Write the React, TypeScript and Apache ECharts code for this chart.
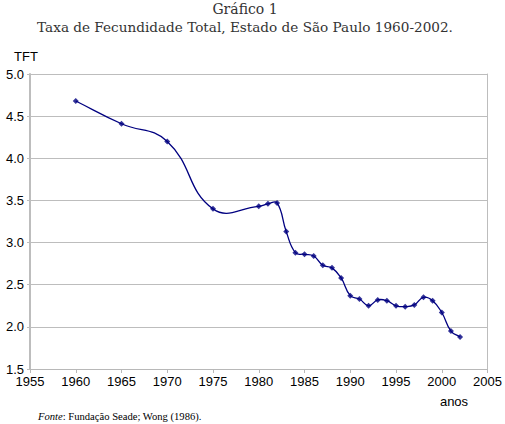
import React, { useEffect, useRef } from "react";
import * as echarts from "echarts";

const years = [1960, 1965, 1970, 1975, 1980, 1981, 1982, 1983, 1984, 1985, 1986, 1987, 1988, 1989, 1990, 1991, 1992, 1993, 1994, 1995, 1996, 1997, 1998, 1999, 2000, 2001, 2002];
const tft = [4.68, 4.41, 4.2, 3.4, 3.43, 3.46, 3.47, 3.13, 2.88, 2.86, 2.84, 2.73, 2.7, 2.58, 2.37, 2.33, 2.25, 2.32, 2.31, 2.25, 2.24, 2.26, 2.35, 2.31, 2.17, 1.95, 1.88];

const titleLine1 = "Gráfico 1";
const titleLine2 = "Taxa de Fecundidade Total, Estado de São Paulo 1960-2002.";
const yAxisName = "TFT";
const xAxisName = "anos";
const sourceLabel = "Fonte";
const sourceText = ": Fundação Seade; Wong (1986).";

const SMOOTH = 0.45;

function smoothPath(pts: number[][]): string {
  let d = `M${pts[0][0]},${pts[0][1]}`;
  const n = pts.length;
  const cpOut: number[][] = [];
  const cpIn: number[][] = [];
  for (let i = 0; i < n; i++) {
    const p = pts[i];
    const prev = pts[Math.max(0, i - 1)];
    const next = pts[Math.min(n - 1, i + 1)];
    const vx = next[0] - prev[0];
    const vy = next[1] - prev[1];
    const d0 = Math.hypot(p[0] - prev[0], p[1] - prev[1]);
    const d1 = Math.hypot(next[0] - p[0], next[1] - p[1]);
    const tot = d0 + d1 || 1;
    cpIn.push([p[0] - vx * SMOOTH * (d0 / tot), p[1] - vy * SMOOTH * (d0 / tot)]);
    cpOut.push([p[0] + vx * SMOOTH * (d1 / tot), p[1] + vy * SMOOTH * (d1 / tot)]);
  }
  for (let i = 0; i < n - 1; i++) {
    const a = cpOut[i];
    const b = cpIn[i + 1];
    const q = pts[i + 1];
    d += ` C${a[0]},${a[1]} ${b[0]},${b[1]} ${q[0]},${q[1]}`;
  }
  return d;
}

export default function App() {
  const ref = useRef<HTMLDivElement>(null);
  useEffect(() => {
    if (!ref.current) return;
    const chart = echarts.init(ref.current, null, { renderer: "svg" });
    const sans = "'Liberation Sans', Arial, sans-serif";
    const serif = "'DejaVu Serif', serif";
    const points = years.map((y, i) => [y, tft[i]]);
    chart.setOption({
      animation: false,
      backgroundColor: "#ffffff",
      grid: { left: 30, right: 16, top: 74, bottom: 55, containLabel: false },
      xAxis: {
        type: "value",
        min: 1955,
        max: 2005,
        interval: 5,
        axisLine: { show: true, lineStyle: { color: "#b8b8b8", width: 1 } },
        axisTick: { show: true, length: 4, lineStyle: { color: "#b8b8b8" } },
        splitLine: { show: false },
        axisLabel: { color: "#000", fontFamily: sans, fontSize: 13, margin: 6, formatter: (v: number) => String(v) },
      },
      yAxis: [
        {
          type: "value",
          min: 1.5,
          max: 5,
          interval: 0.5,
          axisLine: { show: true, onZero: false, lineStyle: { color: "#bdbdbd", width: 2 } },
          axisTick: { show: true, length: 3, lineStyle: { color: "#bdbdbd" } },
          splitLine: { show: true, lineStyle: { color: "#bdbdbd", width: 1 } },
          axisLabel: {
            color: "#000",
            fontFamily: sans,
            fontSize: 13,
            margin: 6,
            formatter: (v: number) => v.toFixed(1),
          },
        },
        {
          type: "value",
          position: "right",
          min: 1.5,
          max: 5,
          interval: 0.5,
          axisLine: { show: true, lineStyle: { color: "#bdbdbd", width: 1 } },
          axisTick: { show: false },
          splitLine: { show: false },
          axisLabel: { show: false },
        },
      ],
      series: [
        {
          type: "custom",
          data: points,
          z: 2,
          renderItem: (params: any, api: any) => {
            if (params.dataIndex !== 0) return null;
            const pts = points.map((p) => api.coord(p));
            return {
              type: "path",
              shape: { pathData: smoothPath(pts) },
              style: { fill: "none", stroke: "#000080", lineWidth: 1.3 },
            };
          },
        },
        {
          type: "scatter",
          data: points,
          z: 3,
          symbol: "diamond",
          symbolSize: 6,
          itemStyle: { color: "#000080" },
        },
      ],
      graphic: [
        {
          type: "text",
          x: 245,
          y: 2,
          style: { text: titleLine1, font: `14px ${serif}`, fill: "#333", textAlign: "center" },
        },
        {
          type: "text",
          x: 245,
          y: 20,
          style: { text: titleLine2, font: `13.6px ${serif}`, fill: "#333", textAlign: "center" },
        },
        {
          type: "text",
          x: 26,
          y: 50,
          style: { text: yAxisName, font: `13px ${sans}`, fill: "#000", textAlign: "center" },
        },
        {
          type: "text",
          x: 454,
          y: 395,
          style: { text: xAxisName, font: `13px ${sans}`, fill: "#000", textAlign: "center" },
        },
        {
          type: "text",
          x: 38,
          y: 411,
          style: {
            text: `{i|${sourceLabel}}{n|${sourceText}}`,
            rich: {
              i: { fontFamily: "'Liberation Serif', serif", fontStyle: "italic", fontSize: 10.6, fill: "#000" },
              n: { fontFamily: "'Liberation Serif', serif", fontSize: 10.6, fill: "#000" },
            },
          },
        },
      ],
    });
    return () => chart.dispose();
  }, []);
  return <div ref={ref} style={{ width: 505, height: 424, position: "absolute", left: 0, top: 0 }} />;
}
